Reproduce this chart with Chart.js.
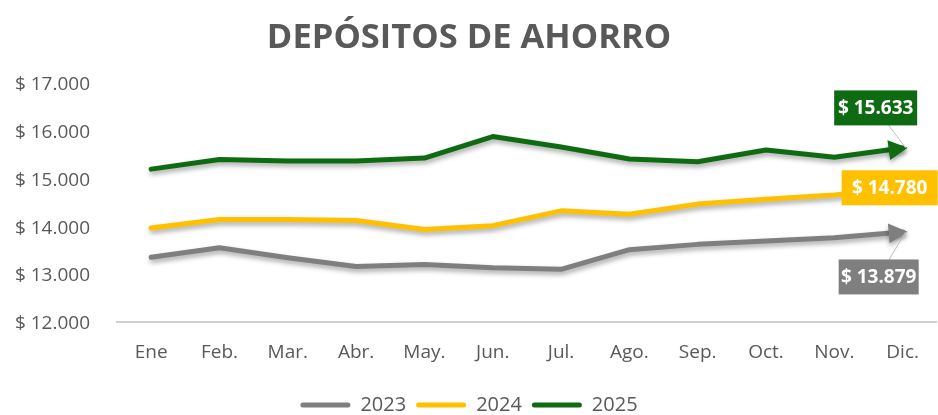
<!DOCTYPE html>
<html>
<head>
<meta charset="utf-8">
<script src="https://cdn.jsdelivr.net/npm/chart.js@4.4.1/dist/chart.umd.min.js"></script>
<style>
  html, body { margin: 0; padding: 0; background: #fff; }
  #wrap { width: 938px; height: 415px; position: relative; }
</style>
</head>
<body>
<div id="wrap"><canvas id="myChart"></canvas></div>
<script>
// datos del grafico
var months = ['Ene', 'Feb.', 'Mar.', 'Abr.', 'May.', 'Jun.', 'Jul.', 'Ago.', 'Sep.', 'Oct.', 'Nov.', 'Dic.'];
var data2023 = [13350, 13550, 13340, 13160, 13200, 13130, 13100, 13510, 13620, 13690, 13760, 13879];
var data2024 = [13960, 14140, 14140, 14120, 13930, 14010, 14320, 14250, 14460, 14560, 14650, 14780];
var data2025 = [15190, 15390, 15360, 15360, 15420, 15870, 15650, 15400, 15345, 15590, 15440, 15633];
var yearLabels = ['2023', '2024', '2025'];
var yearColors = ['#7f7f7f', '#ffc000', '#0f6b12'];

function fmt(v) {
    return '$ ' + v.toLocaleString('de-DE');
}

// sombra de las lineas
var shadowPlugin = {
    id: 'shadowPlugin',
    beforeDatasetDraw: function (chart) {
        var ctx = chart.ctx;
        ctx.save();
        ctx.shadowColor = 'rgba(0,0,0,0.35)';
        ctx.shadowBlur = 5;
        ctx.shadowOffsetX = 1;
        ctx.shadowOffsetY = 3;
    },
    afterDatasetDraw: function (chart) {
        chart.ctx.restore();
    }
};

// flechas al final y etiquetas del ultimo valor
var endLabels = {
    id: 'endLabels',
    afterDatasetsDraw: function (chart) {
        var ctx = chart.ctx;
        var offsets = [[-24, 45], [-13, -1], [-27, -40]];
        var widths = [80, 96, 83];
        chart.data.datasets.forEach(function (ds, i) {
            var meta = chart.getDatasetMeta(i);
            var n = meta.data.length;
            var p = meta.data[n - 1];
            var q = meta.data[n - 2];
            var ang = Math.atan2(p.y - q.y, p.x - q.x);
            // punta de flecha
            ctx.save();
            ctx.shadowColor = 'rgba(0,0,0,0.35)';
            ctx.shadowBlur = 5;
            ctx.shadowOffsetY = 3;
            ctx.translate(p.x + 3, p.y);
            ctx.rotate(ang);
            ctx.beginPath();
            ctx.moveTo(2, 0);
            ctx.lineTo(-17, -10);
            ctx.lineTo(-17, 10);
            ctx.closePath();
            ctx.fillStyle = ds.borderColor;
            ctx.fill();
            ctx.restore();

            var cx = p.x + offsets[i][0];
            var cy = p.y + offsets[i][1];
            var w = widths[i], h = 35;
            // linea guia
            ctx.save();
            ctx.strokeStyle = '#bfbfbf';
            ctx.lineWidth = 1;
            ctx.beginPath();
            ctx.moveTo(p.x + 3, p.y);
            ctx.lineTo(cx, cy);
            ctx.stroke();
            ctx.fillStyle = ds.borderColor;
            ctx.fillRect(cx - w / 2, cy - h / 2, w, h);
            ctx.fillStyle = '#ffffff';
            ctx.font = 'bold 19px "Open Sans"';
            ctx.textAlign = 'center';
            ctx.textBaseline = 'middle';
            ctx.fillText(fmt(ds.data[n - 1]), cx, cy + 1);
            ctx.restore();
        });
    }
};

var ctx = document.getElementById('myChart').getContext('2d');
var myChart = new Chart(ctx, {
    type: 'line',
    data: {
        labels: months,
        datasets: [
            { label: yearLabels[0], data: data2023, borderColor: yearColors[0], backgroundColor: yearColors[0], borderWidth: 5, pointRadius: 0, tension: 0, borderCapStyle: 'round', borderJoinStyle: 'round' },
            { label: yearLabels[1], data: data2024, borderColor: yearColors[1], backgroundColor: yearColors[1], borderWidth: 5, pointRadius: 0, tension: 0, borderCapStyle: 'round', borderJoinStyle: 'round' },
            { label: yearLabels[2], data: data2025, borderColor: yearColors[2], backgroundColor: yearColors[2], borderWidth: 5, pointRadius: 0, tension: 0, borderCapStyle: 'round', borderJoinStyle: 'round' }
        ]
    },
    options: {
        responsive: true,
        maintainAspectRatio: false,
        animation: false,
        layout: { padding: { top: 0, right: 0, left: 0, bottom: -10 } },
        plugins: {
            title: {
                display: true,
                text: 'DEPÓSITOS DE AHORRO',
                color: '#595959',
                font: { family: 'Open Sans', size: 34.5, weight: 'bold' },
                padding: { top: 17, bottom: 24 }
            },
            legend: {
                position: 'bottom',
                labels: {
                    color: '#595959',
                    font: { family: 'Open Sans', size: 20 },
                    boxWidth: 50,
                    boxHeight: 5,
                    padding: 10,
                    useBorderRadius: true,
                    borderRadius: 2.5,
                    generateLabels: function (chart) {
                        var items = Chart.defaults.plugins.legend.labels.generateLabels(chart);
                        items.forEach(function (it) { it.lineWidth = 0; });
                        return items;
                    }
                }
            },
            tooltip: { enabled: false }
        },
        scales: {
            x: {
                offset: true,
                grid: { display: false, drawTicks: false },
                border: { display: true, color: '#d0d0d0', width: 2 },
                afterFit: function (scale) { scale.height = 63; },
                ticks: {
                    color: '#595959',
                    font: { family: 'Open Sans', size: 19 },
                    padding: 19,
                    maxRotation: 0
                }
            },
            y: {
                min: 12000,
                max: 17000,
                grid: { display: false, drawTicks: false },
                border: { display: false },
                afterFit: function (scale) { scale.width = 117; },
                ticks: {
                    stepSize: 1000,
                    color: '#595959',
                    font: { family: 'Open Sans', size: 19 },
                    padding: 27,
                    labelOffset: 2,
                    callback: function (v) { return fmt(v); }
                }
            }
        }
    },
    plugins: [shadowPlugin, endLabels]
});
</script>
</body>
</html>
